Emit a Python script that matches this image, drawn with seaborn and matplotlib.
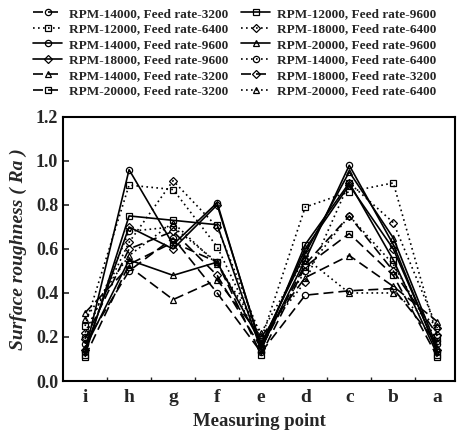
import matplotlib
matplotlib.use("Agg")
import matplotlib.pyplot as plt
from matplotlib.ticker import FixedLocator
import seaborn as sns

# measuring points along x
points = ["i", "h", "g", "f", "e", "d", "c", "b", "a"]

# legend order (column-wise for ncol=2)
labels = [
    "RPM-14000, Feed rate-3200",
    "RPM-12000, Feed rate-6400",
    "RPM-14000, Feed rate-9600",
    "RPM-18000, Feed rate-9600",
    "RPM-14000, Feed rate-3200",
    "RPM-20000, Feed rate-3200",
    "RPM-12000, Feed rate-9600",
    "RPM-18000, Feed rate-6400",
    "RPM-20000, Feed rate-9600",
    "RPM-14000, Feed rate-6400",
    "RPM-18000, Feed rate-3200",
    "RPM-20000, Feed rate-6400",
]

rpm14000_f3200_a = [0.17, 0.50, 0.65, 0.40, 0.13, 0.39, 0.41, 0.42, 0.17]
rpm12000_f6400 = [0.25, 0.89, 0.87, 0.61, 0.19, 0.79, 0.86, 0.90, 0.20]
rpm14000_f9600 = [0.13, 0.96, 0.62, 0.81, 0.15, 0.55, 0.98, 0.62, 0.13]
rpm18000_f9600 = [0.14, 0.70, 0.60, 0.80, 0.16, 0.60, 0.89, 0.60, 0.14]
rpm14000_f3200_b = [0.31, 0.52, 0.37, 0.46, 0.20, 0.47, 0.57, 0.43, 0.27]
rpm20000_f3200 = [0.11, 0.53, 0.63, 0.54, 0.12, 0.52, 0.67, 0.48, 0.11]
rpm12000_f9600 = [0.12, 0.75, 0.73, 0.71, 0.14, 0.62, 0.90, 0.55, 0.12]
rpm18000_f6400 = [0.22, 0.63, 0.91, 0.70, 0.20, 0.45, 0.90, 0.72, 0.24]
rpm20000_f9600 = [0.15, 0.55, 0.48, 0.54, 0.17, 0.58, 0.95, 0.65, 0.15]
rpm14000_f6400 = [0.20, 0.68, 0.70, 0.54, 0.18, 0.50, 0.75, 0.53, 0.18]
rpm18000_f3200 = [0.19, 0.60, 0.68, 0.48, 0.15, 0.53, 0.75, 0.50, 0.21]
rpm20000_f6400 = [0.28, 0.57, 0.72, 0.53, 0.22, 0.56, 0.40, 0.40, 0.25]

series = [rpm14000_f3200_a, rpm12000_f6400, rpm14000_f9600, rpm18000_f9600,
          rpm14000_f3200_b, rpm20000_f3200, rpm12000_f9600, rpm18000_f6400,
          rpm20000_f9600, rpm14000_f6400, rpm18000_f3200, rpm20000_f6400]

dashed = (0, (6, 3))
dotted = (0, (1, 2))
solid = "-"
styles = [dashed, dotted, solid, solid, dashed, dashed,
          solid, dotted, solid, dotted, dashed, dotted]
markers = ["o", "s", "o", "D", "^", "s", "s", "D", "^", "o", "D", "^"]

sns.set_style("ticks")
plt.rcParams["font.family"] = ["Liberation Serif", "DejaVu Serif"]
plt.rcParams["font.weight"] = "bold"

fig = plt.figure(figsize=(4.6, 4.41), dpi=100)
ax = fig.add_axes([0.137, 0.136, 0.852, 0.599])

for vals, lab, ls, mk in zip(series, labels, styles, markers):
    sns.lineplot(x=points, y=vals, ax=ax, color="black", linestyle=ls,
                 marker=mk, markersize=4.5 if mk != "D" else 4,
                 markerfacecolor="none", markeredgecolor="black",
                 markeredgewidth=0.9, linewidth=1.2, label=lab, legend=False)

ax.set_xlim(-0.5, 8.4)
ax.set_ylim(0, 1.2)
ax.set_yticks([0.0, 0.2, 0.4, 0.6, 0.8, 1.0, 1.2])
ax.set_yticklabels(["0.0", "0.2", "0.4", "0.6", "0.8", "1.0", "1.2"])
ax.tick_params(axis="y", direction="in", length=4, width=1.2, labelsize=13)
ax.tick_params(axis="x", which="major", length=0, labelsize=14, pad=6)
ax.xaxis.set_minor_locator(FixedLocator([0.5, 1.5, 2.5, 3.5, 4.5, 5.5, 6.5, 7.5]))
ax.tick_params(axis="x", which="minor", direction="in", length=3, width=1)
for t in ax.get_xticklabels() + ax.get_yticklabels():
    t.set_fontweight("bold")
for sp in ax.spines.values():
    sp.set_linewidth(1.5)
    sp.set_color("black")

ax.set_xlabel("Measuring point", fontsize=13.5, fontweight="bold", labelpad=5)
ax.set_ylabel("Surface roughness ( Ra )", fontsize=14, fontweight="bold",
              fontstyle="italic", labelpad=6)

handles, labs = ax.get_legend_handles_labels()
fig.legend(handles, labs, loc="upper center", bbox_to_anchor=(0.51, 1.01),
           ncol=2, frameon=False, handlelength=2.2,
           handletextpad=0.5, columnspacing=1.0, labelspacing=0.25,
           prop={"weight": "bold", "size": 9.5})

fig.savefig("out.png", dpi=100)
